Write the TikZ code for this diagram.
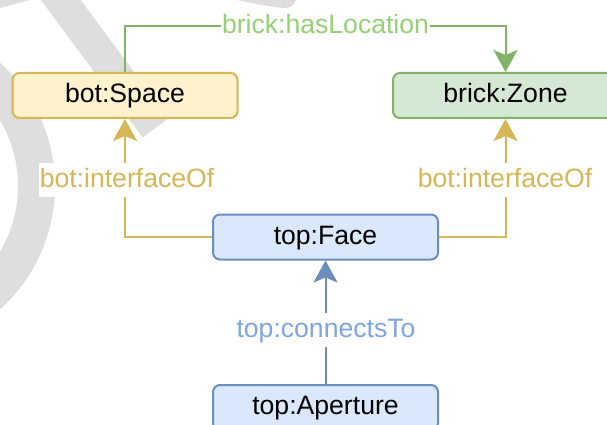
\documentclass[tikz,border=0pt]{standalone}
\usepackage{fontspec}
\setmainfont{Liberation Sans}
\usetikzlibrary{arrows.meta}
\definecolor{spacefill}{HTML}{FFF2CC}
\definecolor{spaceline}{HTML}{D6B656}
\definecolor{zonefill}{HTML}{D5E8D4}
\definecolor{zoneline}{HTML}{82B366}
\definecolor{facefill}{HTML}{DAE8FC}
\definecolor{faceline}{HTML}{6C8EBF}
\definecolor{greentext}{HTML}{97D077}
\definecolor{yellowtext}{HTML}{D6B656}
\definecolor{bluetext}{HTML}{7EA6E0}
\definecolor{wmgray}{HTML}{DEDEDE}
\tikzset{
  box/.style={draw, rounded corners=7pt, line width=2pt, minimum width=225pt,
    minimum height=45pt, inner sep=0pt, text height=19pt, text depth=5pt,
    font=\fontsize{26.6}{30}\selectfont, text=black},
  edgelabel/.style={fill=white, inner xsep=1pt, inner ysep=5pt, text height=19pt,
    text depth=5pt, font=\fontsize{26.6}{30}\selectfont},
  conn/.style={line width=2pt, -{Stealth[length=22pt,width=24pt,inset=5pt]}},
}
\begin{document}
\begin{tikzpicture}[x=1pt,y=-1pt]
\useasboundingbox (0,0) rectangle (607,425);
\clip (0,0) rectangle (607,425);
% watermark
\fill[wmgray, even odd rule] (-111,186) circle (166pt) (-111,186) circle (129pt);
\draw[wmgray, line width=32pt] (38.6,-30) -- (155.5,128);
\fill[wmgray] (0,0) -- (30,0) -- (0,8) -- cycle;
\fill[wmgray] (237,0) -- (296,0) .. controls (294,6) and (290,8) .. (284,8) .. controls (265,6) and (250,3) .. (237,0) -- cycle;
% nodes
\node[box, fill=spacefill, draw=spaceline] (space) at (125,95.5) {bot:Space};
\node[box, fill=zonefill, draw=zoneline] (zone) at (505.5,95.5) {brick:Zone};
\node[box, fill=facefill, draw=faceline] (face) at (325.5,237) {top:Face};
\node[box, fill=facefill, draw=faceline] (aperture) at (325.5,407.5) {top:Aperture};
% connectors
\draw[conn, draw=zoneline] (space.north) -- ++(0,-46) coordinate (gcorner) -| (zone.north);
\draw[conn, draw=spaceline] (face.west) -| (space.south);
\draw[conn, draw=spaceline] (face.east) -| (zone.south);
\draw[conn, draw=faceline] (aperture.north) -- (face.south);
% labels
\node[edgelabel, text=greentext] (lhas) at (325.5,27) {brick:hasLocation};
\node[edgelabel, text=yellowtext] (lif1) at (127,180) {bot:interfaceOf};
\node[edgelabel, text=yellowtext] (lif2) at (505,180) {bot:interfaceOf};
\node[edgelabel, text=bluetext] (lcon) at (326,330) {top:connectsTo};
\end{tikzpicture}
\end{document}
